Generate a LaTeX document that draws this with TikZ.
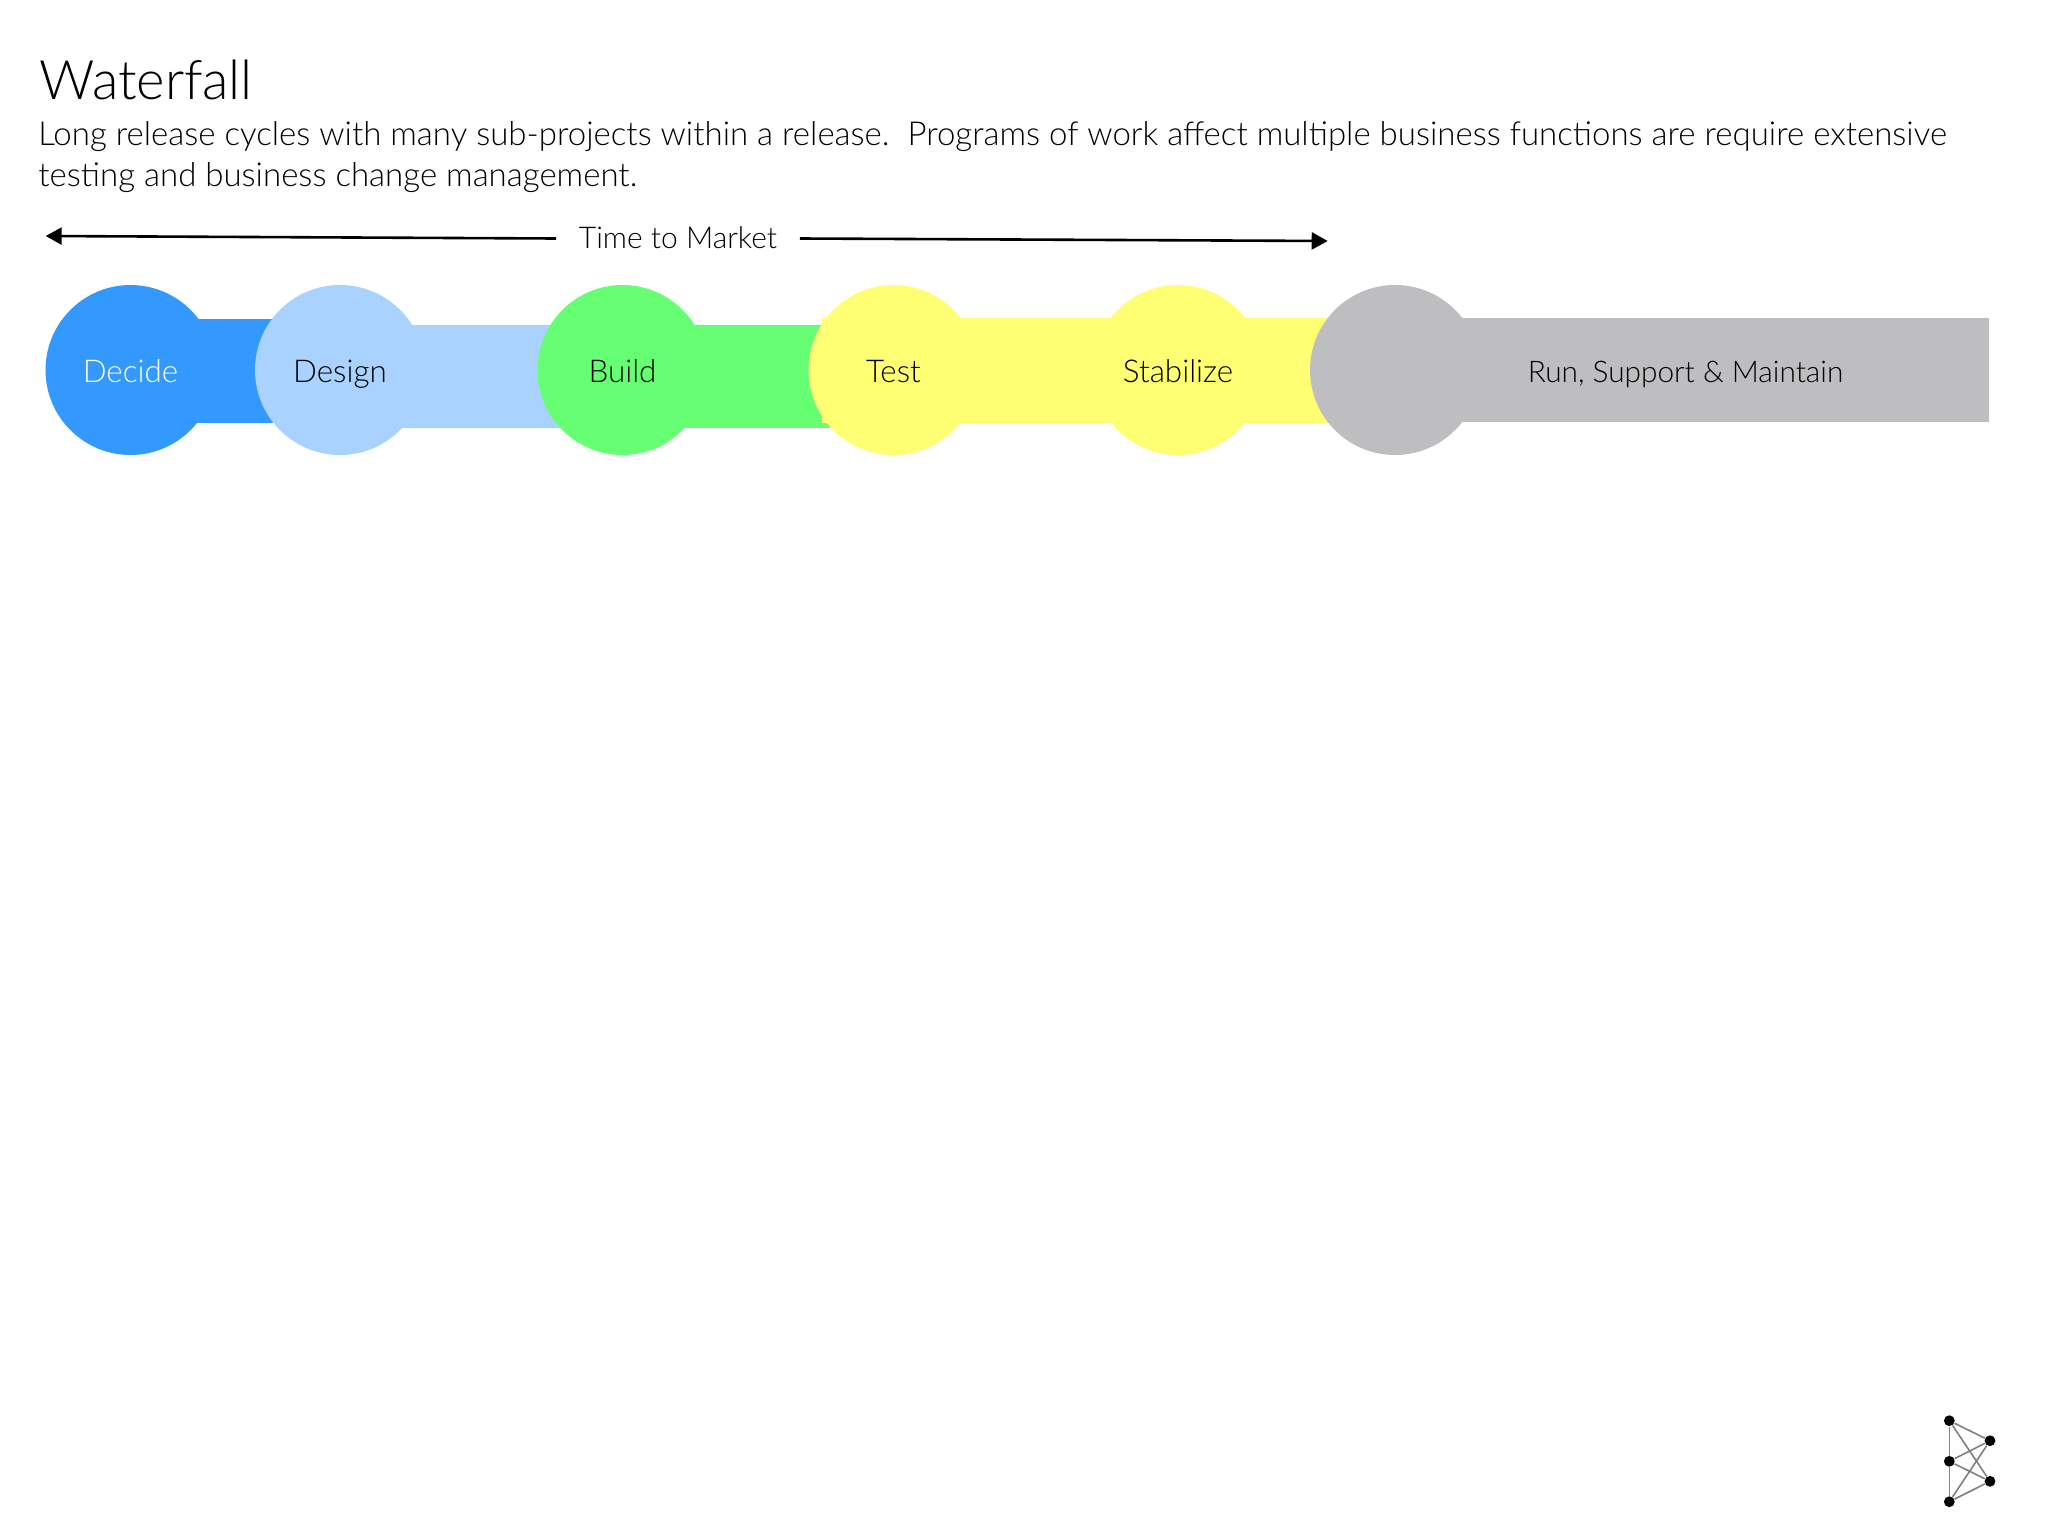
\documentclass[tikz,border=0pt]{standalone}
\usepackage{xcolor}
\usepackage{fontspec}
\setmainfont{Lato}[UprightFont=* Light]
\definecolor{3399ff}{HTML}{3399FF}
\definecolor{aad2ff}{HTML}{AAD2FF}
\definecolor{66ff73}{HTML}{66FF73}
\definecolor{ffff73}{HTML}{FFFF73}
\definecolor{bebdbf}{HTML}{BEBDBF}
\usepackage{tikz}
\usetikzlibrary{arrows.meta}
\tikzset{
  phase/.style={circle, minimum size=85pt, inner sep=0pt, text height=14pt, text depth=1.3pt, font=\fontsize{15.7}{18}\selectfont},
  band/.style={rectangle, inner sep=0pt},
  line text/.style={anchor=base west, inner sep=0pt, font=\fontsize{16.5}{18}\selectfont},
  dot/.style={circle, fill=black, minimum size=5.4pt, inner sep=0pt},
  link/.style={draw=black!50, line width=0.8pt}
}

\begin{document}
\begin{tikzpicture}[x=0.5pt, y=-0.5pt]
                        \useasboundingbox (0, 0) rectangle (2048, 1536);

                        \node (Title) at (39, 99) [anchor=base west, inner sep=0pt, font=\fontsize{27.2}{30}\selectfont] {Waterfall};
                        \node (Intro) at (38, 145.5) [line text] {Long release cycles with many sub-projects within a release.\ \ Programs of work affect multiple business functions are require extensive};
                        \node (IntroEnd) at (38, 186.5) [line text] {testing and business change management.};

                        \node (Market) at (678, 238.5) [minimum width=121.5pt, inner sep=0pt, text height=11pt, text depth=1.5pt, font=\fontsize{15}{18}\selectfont] {Time to Market};
                        \coordinate (MarketStart) at (45.7, 236);
                        \coordinate (MarketEnd) at (1327.7, 241);
                        \draw[-{Triangle[length=8pt, width=8.5pt]}, line width=1.3pt] (Market.west) to (MarketStart);
                        \draw[-{Triangle[length=8pt, width=8.5pt]}, line width=1.3pt] (Market.east) to (MarketEnd);

                        \node (DecideBand) at (235, 371) [band, fill=3399ff, minimum width=105pt, minimum height=52pt] {};
                        \node (Decide) at (130.5, 370) [phase, fill=3399ff, text=white] {Decide};
                        \node (DesignBand) at (481, 376.5) [band, fill=aad2ff, minimum width=141pt, minimum height=51.5pt] {};
                        \node (Design) at (340, 370) [phase, fill=aad2ff] {Design};
                        \node (BuildBand) at (726, 376.5) [band, fill=66ff73, minimum width=104pt, minimum height=51.5pt] {};
                        \node (Build) at (622.5, 370) [phase, fill=66ff73] {Build};
                        \node (TestBand) at (1108, 370.5) [band, fill=ffff73, minimum width=286pt, minimum height=52.5pt] {};
                        \node (Test) at (893.5, 370) [phase, fill=ffff73] {Test};
                        \node (Stabilize) at (1178, 370) [phase, fill=ffff73] {Stabilize};
                        \node (RunBand) at (1692, 370) [band, fill=bebdbf, minimum width=297pt, minimum height=52pt] {};
                        \node (Run) at (1395, 370) [phase, fill=bebdbf] {};
                        \node (RunText) at (1685.5, 370) [inner sep=0pt, text height=14pt, text depth=1.3pt, font=\fontsize{14.9}{18}\selectfont] {Run, Support \& Maintain};

                        \node (LogoA) at (1949.3, 1420.7) [dot] {};
                        \node (LogoB) at (1949.3, 1461.3) [dot] {};
                        \node (LogoC) at (1949.3, 1501.7) [dot] {};
                        \node (LogoP) at (1990, 1440.7) [dot] {};
                        \node (LogoQ) at (1990, 1481.3) [dot] {};

                        \draw[link] (LogoA) to (LogoB);
                        \draw[link] (LogoB) to (LogoC);
                        \draw[link] (LogoA) to (LogoP);
                        \draw[link] (LogoA) to (LogoQ);
                        \draw[link] (LogoB) to (LogoP);
                        \draw[link] (LogoB) to (LogoQ);
                        \draw[link] (LogoC) to (LogoP);
                        \draw[link] (LogoC) to (LogoQ);
                    \end{tikzpicture}
\end{document}
